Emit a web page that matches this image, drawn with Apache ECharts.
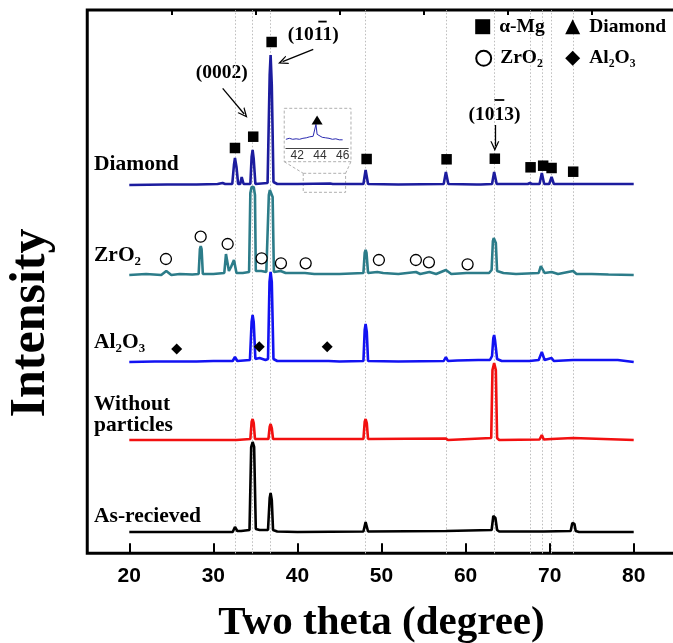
<!DOCTYPE html>
<html>
<head>
<meta charset="utf-8">
<title>XRD patterns</title>
<script src="https://cdn.jsdelivr.net/npm/echarts@6/dist/echarts.min.js"></script>
<style>
html, body { margin: 0; padding: 0; background: #fff; }
#main { width: 673px; height: 643px; }
</style>
</head>
<body>
<div id="main"></div>
<script>
// x ticks
const xMajor = [20, 30, 40, 50, 60, 70, 80]
const xMinor = [25, 35, 45, 55, 65, 75]
const insetTicks = [42, 44, 46]

// vertical offset of each pattern (a.u.)
const offsets = [368.3, 278.3, 191.3, 113.3, 21.3]

// patterns: [2theta, intensity above own baseline]
const diamondPattern = [
  [20, 0], [24.5, 0.5], [28, 0.5], [30.5, 1], [31.1, 2], [31.4, 1], [32.25, 1], [32.45, 20], [32.57, 27], [32.75, 18], [32.95, 1],
  [33.2, 1], [33.37, 8], [33.6, 1], [34.4, 1], [34.55, 28], [34.67, 35], [34.8, 26], [35, 1], [36.45, 2], [36.7, 110],
  [36.81, 130], [36.95, 100], [37.15, 3], [37.6, 1], [40, 1], [43.9, 1.5], [44.2, 1], [47.85, 1], [48.11, 15], [48.4, 1],
  [52, 0.5], [57.4, 1], [57.66, 13], [57.95, 1], [61.3, 0.5], [61.5, 2], [61.8, 0.5], [63.15, 1], [63.4, 13], [63.7, 1],
  [67.4, 1], [67.65, 2], [67.9, 1], [68.8, 1], [69.07, 12], [69.35, 1], [69.95, 1], [70.23, 8], [70.5, 1], [72.6, 1],
  [72.79, 2], [73, 1], [77.9, 1], [78.1, 2], [78.3, 1], [80, 1]
]
const zro2Pattern = [
  [20, 0], [22, 1], [23.8, 0], [24.4, 4], [25, 0], [26, 1], [27.5, 0.5], [28.25, 1], [28.4, 26], [28.5, 29], [28.6, 26],
  [28.75, 1], [30, 1], [31.3, 2], [31.5, 21], [31.6, 23], [31.7, 20], [31.85, 4], [32.1, 8], [32.45, 15], [32.75, 2],
  [33.5, 2], [34.25, 3], [34.4, 82], [34.55, 88], [34.8, 88], [34.95, 80], [35.05, 4], [35.7, 4], [36.3, 3], [36.45, 4],
  [36.6, 80], [36.72, 85], [36.92, 85], [37.05, 78], [37.2, 3], [38, 4], [38.6, 2], [40.9, 2], [42, 1], [45, 1],
  [47.85, 2], [48.0, 22], [48.11, 25], [48.22, 22], [48.4, 2], [49.5, 3], [50.2, 2], [52, 1], [54.1, 3], [54.6, 1],
  [55.7, 3], [56.5, 1], [57.66, 5], [58.3, 1], [60.1, 2], [62.8, 2], [63.1, 5], [63.25, 34], [63.35, 37], [63.5, 37],
  [63.6, 32], [63.75, 4], [64.5, 2], [66, 1], [68.7, 2], [68.95, 9], [69.1, 10], [69.4, 2], [70.23, 3], [71, 1],
  [72.79, 4], [73.2, 1], [75, 1], [77, 0.5], [80, 0]
]
const al2o3Pattern = [
  [20, 0], [23, 0.5], [25.4, 0.5], [25.6, 2.5], [25.8, 0.5], [28, 0.5], [30, 1], [32.3, 1], [32.57, 5], [32.85, 1],
  [34.35, 2], [34.55, 40], [34.67, 47], [34.8, 40], [35, 3], [35.5, 4], [36.2, 2], [36.5, 3], [36.68, 80], [36.81, 90],
  [36.95, 80], [37.15, 3], [37.6, 1], [40, 1], [43.3, 1], [43.5, 3], [43.7, 1], [45, 0.5], [47.85, 1], [48.0, 32],
  [48.11, 38], [48.25, 30], [48.4, 1], [52, 0.5], [57.4, 1], [57.66, 5], [57.9, 1], [59, 1.5], [61.5, 2], [62.9, 2],
  [63.15, 6], [63.3, 24], [63.4, 27], [63.5, 22], [63.75, 3], [64.3, 1], [67.6, 1], [68.7, 2], [69.07, 10], [69.4, 2],
  [70.23, 4], [70.5, 1], [72.79, 2], [73, 0.5], [77.2, 2], [77.4, 0.5], [78.1, 2], [78.3, 0.5], [80, 0]
]
const plainPattern = [
  [20, 0], [30, 0], [32.4, 0], [32.57, 2], [32.75, 0], [34.4, 1], [34.55, 18], [34.67, 21], [34.8, 17], [34.95, 1],
  [36.55, 1], [36.7, 13], [36.81, 16], [36.95, 12], [37.1, 1], [47.85, 1], [48.0, 18], [48.11, 21], [48.25, 17],
  [48.4, 1], [57.66, 1.5], [57.9, 0], [63.05, 2], [63.2, 70], [63.4, 77], [63.6, 70], [63.75, 2], [64, 0], [68.8, 0.5],
  [69.07, 5], [69.3, 0.5], [70.23, 1], [72.79, 2], [73, 0], [80, 0]
]
const asReceivedPattern = [
  [20, 0], [32.3, 0], [32.57, 5], [32.85, 1], [33.3, 1], [34.3, 2], [34.5, 85], [34.67, 90], [34.85, 85], [35.05, 3],
  [35.5, 2], [36.5, 2], [36.7, 34], [36.81, 39], [36.95, 32], [37.1, 2], [37.6, 0.5], [40, 0], [47.85, 0.5],
  [48.11, 10], [48.4, 0.5], [57.66, 1], [63.1, 2], [63.3, 16], [63.4, 18], [63.55, 14], [63.75, 2], [64, 0.5],
  [68.9, 0.5], [69.07, 2], [69.3, 0.5], [72.5, 1], [72.7, 9], [72.79, 10], [72.95, 8], [73.1, 1], [73.5, 0], [80, 0]
]
// enlarged 41-46 deg region of the diamond pattern
const insetPattern = [
  [41.0, 9], [41.3, 10], [41.6, 9], [41.9, 9.5], [42.2, 9], [42.5, 10], [42.8, 10.5], [43.1, 11.5], [43.4, 12],
  [43.55, 14], [43.65, 24], [43.75, 14], [43.9, 12.5], [44.2, 11], [44.5, 10.5], [44.8, 10], [45.1, 9], [45.4, 9.5],
  [45.7, 8.5], [46.0, 8.5]
]

// phase markers
const mgPeaks = [32.57, 34.67, 36.81, 48.11, 57.66, 63.4, 67.65, 69.07, 70.23, 72.79]
const mgMarks = [[32.57, 405.3], [34.74, 416.6], [36.93, 511.3], [48.23, 394.3], [57.74, 394], [63.48, 394.6],
  [67.73, 386], [69.23, 387.6], [70.23, 385.3], [72.8, 381.6]]
const zro2Marks = [[24.36, 294.3], [28.49, 316.6], [31.7, 309.3], [35.74, 295], [38.04, 290], [40.98, 290],
  [49.69, 293.3], [54.09, 293.3], [55.64, 291], [60.24, 289]]
const al2o3Marks = [[25.64, 204.3], [35.46, 206.6], [43.54, 206.6]]
const diamondMarks = [[43.75, 28.3]]

// inset frame + zoomed region, links, arrows (data coords)
const insetBoxes = [[[38.43, 445], [46.37, 391.6]], [[40.69, 380], [45.73, 361]]]
const insetLinks = [[[38.43, 391.6], [40.69, 380]], [[46.37, 391.6], [45.73, 380]]]
const arrows = [[[31.11, 465], [33.67, 439.3]], [[41.88, 504], [38.24, 491.6]], [[63.48, 428.3], [63.48, 407]]]

const serif = '"Liberation Serif", "Times New Roman", serif'
const sans = '"Liberation Sans", Arial, sans-serif'
const chevron = 'path://M0,10 L5,0 L10,10 L8.6,10 L5,3.2 L1.4,10 Z'

function shift(pts, off) {
  return pts.map(p => [p[0], p[1] + off])
}
function txt(x, y, text, size, align, rotation) {
  return {
    type: 'text', x: x, y: y, rotation: rotation || 0, silent: true,
    style: {
      text: text, fill: '#000', font: 'bold ' + size + 'px ' + serif,
      textAlign: align || 'left', textVerticalAlign: 'middle',
      align: align || 'left', verticalAlign: 'middle'
    }
  }
}
function bar(x1, x2, y) {
  return { type: 'line', silent: true, shape: { x1: x1, y1: y, x2: x2, y2: y }, style: { stroke: '#000', lineWidth: 1.8 } }
}
function trace(name, data, color, off) {
  return {
    name: name, type: 'line', data: shift(data, off), showSymbol: false, z: 2, silent: true,
    lineStyle: { color: color, width: 2.6 }, itemStyle: { color: color }
  }
}
function legendItem(name, icon, left, top) {
  return {
    data: [{ name: name, icon: icon }], left: left, top: top, padding: 0, itemWidth: 15, itemHeight: 15,
    selectedMode: false,
    textStyle: { fontFamily: serif, fontWeight: 'bold', fontSize: 19.5, color: '#000', padding: [0, 0, 0, 4] }
  }
}

const chart = echarts.init(document.getElementById('main'))
chart.setOption({
  animation: false,
  backgroundColor: '#fff',
  grid: [
    { left: 87.25, top: 10, width: 588.5, height: 543.3, show: true, borderColor: '#000', borderWidth: 3, outerBoundsMode: 'none', containLabel: false },
    { left: 285.9, top: 110.3, width: 62.4, height: 38, outerBoundsMode: 'none', containLabel: false }
  ],
  legend: [
    legendItem('α-Mg', 'rect', 475.2, 16.7),
    legendItem('Diamond', 'triangle', 565.2, 16.7),
    legendItem('ZrO₂', 'circle', 475.2, 48.3),
    legendItem('Al₂O₃', 'diamond', 565.2, 48.3)
  ],
  xAxis: [
    {
      type: 'value', gridIndex: 0, min: 15, max: 85,
      axisLine: { show: false }, splitLine: { show: false },
      axisTick: { show: true, inside: true, length: 10, customValues: xMajor, lineStyle: { color: '#000', width: 2 } },
      axisLabel: { show: true, customValues: xMajor, margin: 12, color: '#000', fontFamily: sans, fontWeight: 'bold', fontSize: 21 },
      name: 'Two theta (degree)', nameLocation: 'middle', nameGap: 50,
      nameTextStyle: { fontFamily: serif, fontWeight: 'bold', fontSize: 41, color: '#000' }
    },
    {
      type: 'value', gridIndex: 0, min: 15, max: 85,
      axisLine: { show: false }, splitLine: { show: false }, axisLabel: { show: false },
      axisTick: { show: true, inside: true, length: 5, customValues: xMinor, lineStyle: { color: '#000', width: 2 } }
    },
    {
      type: 'value', gridIndex: 1, min: 41, max: 46.5,
      axisLine: { show: true, onZero: false, lineStyle: { color: '#444', width: 1 } },
      axisTick: { show: false }, splitLine: { show: false },
      axisLabel: { customValues: insetTicks, margin: 1, color: '#333', fontFamily: sans, fontSize: 12 }
    }
  ],
  yAxis: [
    {
      type: 'value', gridIndex: 0, min: 0, max: 543.3,
      axisLine: { show: false }, axisTick: { show: false }, axisLabel: { show: false }, splitLine: { show: false }
    },
    { type: 'value', gridIndex: 1, min: 0, max: 38, show: false }
  ],
  series: [
    {
      name: 'guides', type: 'line', data: [], z: 1, silent: true,
      markLine: {
        silent: true, symbol: 'none', animation: false, label: { show: false }, z: 1,
        lineStyle: { color: '#bcbcbc', type: [1.5, 2], width: 1 },
        data: mgPeaks.map(v => ({ xAxis: v })).concat(insetLinks.map(l => [
          { coord: l[0], lineStyle: { type: [3, 2], color: '#b0b0b0', width: 1 } }, { coord: l[1] }
        ]))
      },
      markArea: {
        silent: true, label: { show: false }, z: 1,
        itemStyle: { color: 'rgba(0,0,0,0)', borderColor: '#b0b0b0', borderWidth: 1, borderType: [3, 2] },
        data: insetBoxes.map(b => [{ coord: b[0] }, { coord: b[1] }])
      }
    },
    {
      name: 'arrows', type: 'line', data: [], z: 4, silent: true,
      markLine: {
        silent: true, animation: false, label: { show: false },
        lineStyle: { color: '#000', type: 'solid', width: 1.3 },
        data: arrows.map(a => [{ coord: a[0], symbol: 'none' }, { coord: a[1], symbol: chevron, symbolSize: [9, 10] }])
      }
    },
    trace('Diamond sample', diamondPattern, '#1c1c9e', offsets[0]),
    trace('ZrO2 sample', zro2Pattern, '#2c7c89', offsets[1]),
    trace('Al2O3 sample', al2o3Pattern, '#1212f2', offsets[2]),
    trace('Without particles', plainPattern, '#f21010', offsets[3]),
    trace('As-recieved', asReceivedPattern, '#000000', offsets[4]),
    {
      name: 'inset', type: 'line', xAxisIndex: 2, yAxisIndex: 1, data: insetPattern, showSymbol: false, silent: true,
      lineStyle: { color: '#2a2ab0', width: 1 }
    },
    {
      name: 'α-Mg', type: 'scatter', data: mgMarks, symbol: 'rect', symbolSize: 10.5, z: 3, silent: true,
      itemStyle: { color: '#000', opacity: 1 }
    },
    {
      name: 'Diamond', type: 'scatter', xAxisIndex: 2, yAxisIndex: 1, data: diamondMarks, symbol: 'triangle',
      symbolSize: [11, 9], z: 3, silent: true, itemStyle: { color: '#000', opacity: 1 }
    },
    {
      name: 'ZrO₂', type: 'scatter', data: zro2Marks, symbol: 'circle', symbolSize: 11, z: 3, silent: true,
      itemStyle: { color: '#fff', borderColor: '#000', borderWidth: 1.3, opacity: 1 }
    },
    {
      name: 'Al₂O₃', type: 'scatter', data: al2o3Marks, symbol: 'diamond', symbolSize: 11, z: 3, silent: true,
      itemStyle: { color: '#000', opacity: 1 }
    }
  ],
  graphic: [
    txt(31, 323, 'Intensity', 50, 'center', Math.PI / 2),
    txt(94, 164.4, 'Diamond', 21.5),
    txt(94, 255.4, 'ZrO₂', 21.5),
    txt(94, 342.7, 'Al₂O₃', 21.5),
    txt(94, 404.4, 'Without', 21.5),
    txt(94, 425.4, 'particles', 21.5),
    txt(94, 516.7, 'As-recieved', 21.5),
    txt(221.7, 72.5, '(0002)', 19.5, 'center'),
    txt(313.3, 35, '(1011)', 19.5, 'center'),
    bar(318.3, 326.7, 21.6),
    txt(494.5, 114.5, '(1013)', 19.5, 'center'),
    bar(494.3, 504.3, 100)
  ]
})
</script>
</body>
</html>
